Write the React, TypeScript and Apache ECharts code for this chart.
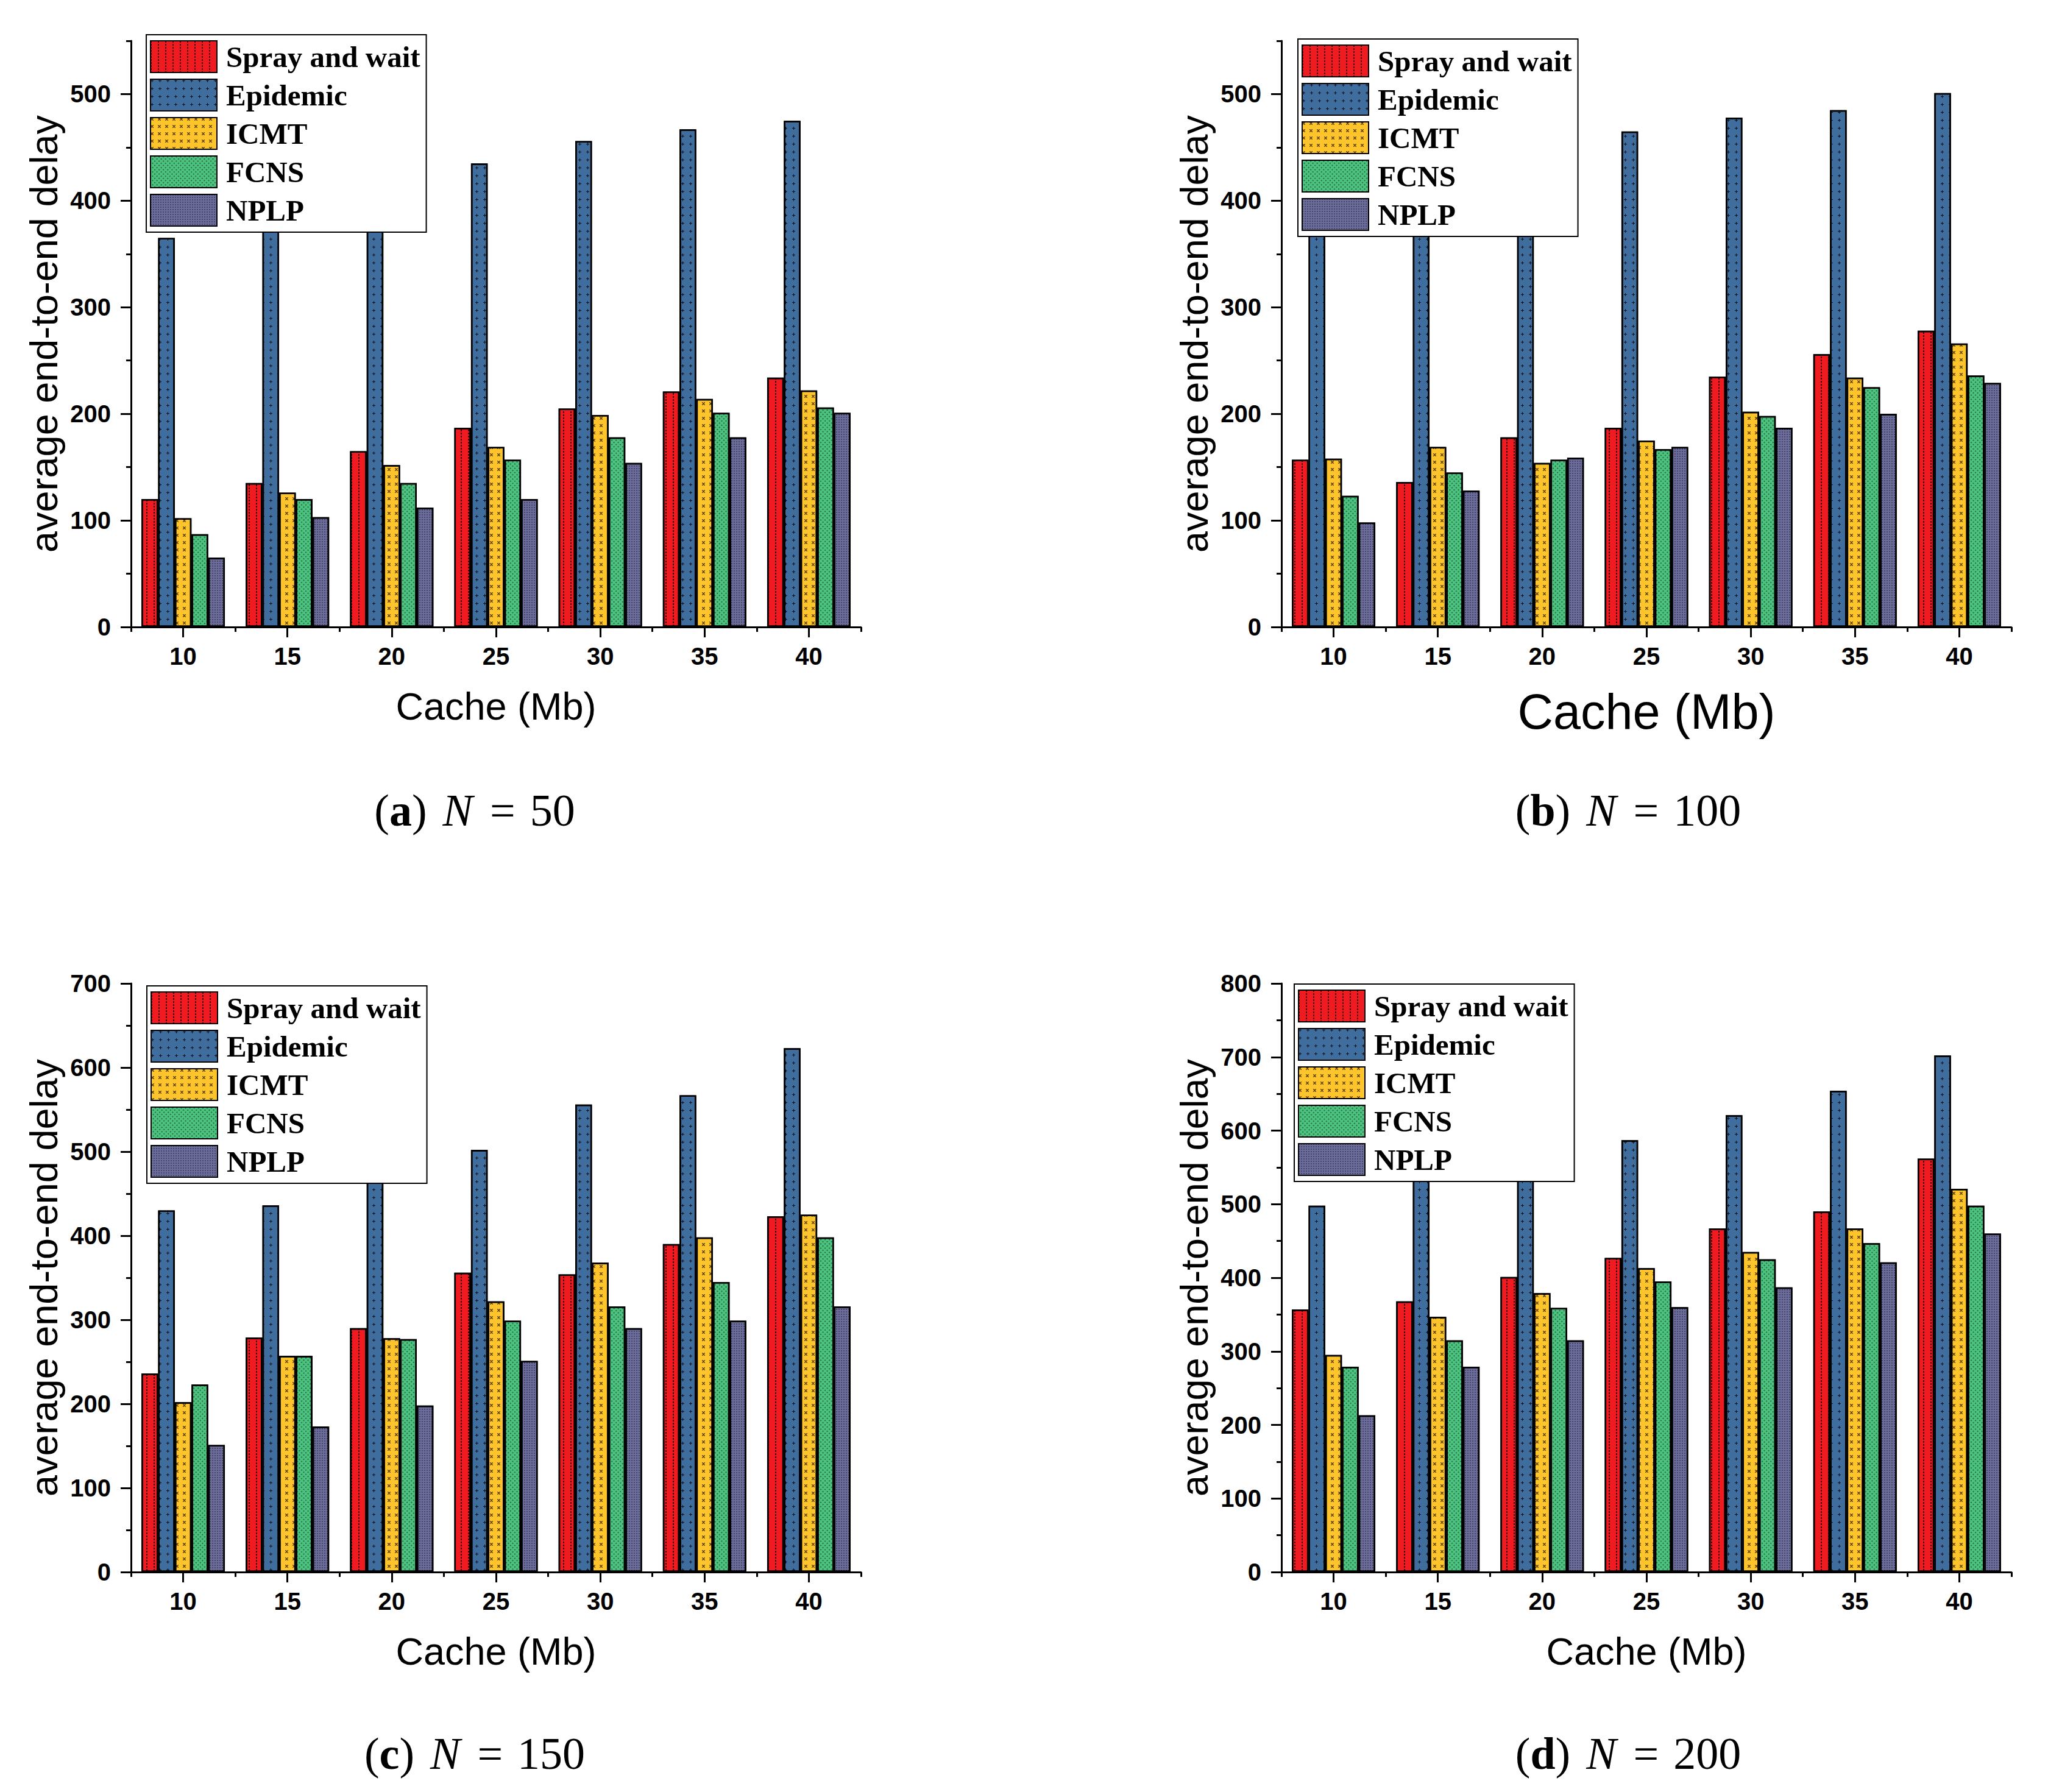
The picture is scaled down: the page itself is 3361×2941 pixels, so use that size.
import React, { useEffect, useRef } from "react";
import * as echarts from "echarts";

const cacheCategories = ["10", "15", "20", "25", "30", "35", "40"];
const seriesNames = ["Spray and wait", "Epidemic", "ICMT", "FCNS", "NPLP"];

// N = 50
const sprayN50 = [120, 135, 165, 187, 205, 221, 234];
const epidemicN50 = [365, 390, 410, 435, 456, 467, 475];
const icmtN50 = [102, 126, 152, 169, 199, 214, 222];
const fcnsN50 = [87, 120, 135, 157, 178, 201, 206];
const nplpN50 = [65, 103, 112, 120, 154, 178, 201];

// N = 100
const sprayN100 = [157, 136, 178, 187, 235, 256, 278];
const epidemicN100 = [390, 400, 420, 465, 478, 485, 501];
const icmtN100 = [158, 169, 154, 175, 202, 234, 266];
const fcnsN100 = [123, 145, 157, 167, 198, 225, 236];
const nplpN100 = [98, 128, 159, 169, 187, 200, 229];

// N = 150
const sprayN150 = [236, 279, 290, 356, 354, 390, 423];
const epidemicN150 = [430, 436, 480, 502, 556, 567, 623];
const icmtN150 = [202, 257, 278, 322, 368, 398, 425];
const fcnsN150 = [223, 257, 277, 299, 316, 345, 398];
const nplpN150 = [151, 173, 198, 251, 290, 299, 316];

// N = 200
const sprayN200 = [357, 368, 401, 427, 467, 490, 562];
const epidemicN200 = [498, 545, 560, 587, 621, 654, 702];
const icmtN200 = [295, 347, 379, 413, 435, 467, 521];
const fcnsN200 = [279, 315, 359, 395, 425, 447, 498];
const nplpN200 = [213, 279, 315, 360, 387, 421, 460];

// y tick labels
const yTicks550 = [0, 100, 200, 300, 400, 500];
const yTicks700 = [0, 100, 200, 300, 400, 500, 600, 700];
const yTicks800 = [0, 100, 200, 300, 400, 500, 600, 700, 800];

const panelLetters = ["a", "b", "c", "d"];
const panelN = ["50", "100", "150", "200"];

const SANS = "'Liberation Sans', Arial, Helvetica, sans-serif";
const SERIF = "'Liberation Serif', 'Times New Roman', serif";

const fills = ["#EF1B20", "#3F6E9E", "#FEC42B", "#4CC27F", "#6D6D9D"];

const plusPath = "path://M2,0h1v2h2v1h-2v2h-1v-2h-2v-1h2z";
const xPath = "path://M0,0h1l4,4v1h-1l-4,-4z M4,0h1v1l-4,4h-1v-1z";

const decals: any[] = [
  { symbol: "rect", symbolSize: 1, color: "rgba(0,0,0,0.7)", dashArrayX: [2, 10], dashArrayY: [3, 2] },
  { symbol: plusPath, symbolSize: 1, color: "rgba(0,0,0,0.85)", dashArrayX: [5, 8], dashArrayY: [5, 8] },
  { symbol: xPath, symbolSize: 1, color: "rgba(40,20,0,0.75)", dashArrayX: [5, 7], dashArrayY: [5, 7] },
  { symbol: "rect", symbolSize: 1, color: "rgba(0,0,0,0.45)", dashArrayX: [1.5, 2.5], dashArrayY: [1.5, 2.5], rotation: Math.PI / 4 },
  { symbol: "rect", symbolSize: 1, color: "rgba(0,0,0,0.35)", dashArrayX: [1.5, 2], dashArrayY: [1.5, 2] },
];

const panels = [
  { data: [sprayN50, epidemicN50, icmtN50, fcnsN50, nplpN50], max: 550, ticks: yTicks550, grid: { left: 215, top: 67, width: 1198, height: 962 }, legend: { left: 240, top: 57 }, caption: { x: 779, y: 1330 }, xNameSize: 63 },
  { data: [sprayN100, epidemicN100, icmtN100, fcnsN100, nplpN100], max: 550, ticks: yTicks550, grid: { left: 2103, top: 67, width: 1198, height: 962 }, legend: { left: 2130, top: 64 }, caption: { x: 2672, y: 1330 }, xNameSize: 81 },
  { data: [sprayN150, epidemicN150, icmtN150, fcnsN150, nplpN150], max: 700, ticks: yTicks700, grid: { left: 215, top: 1614, width: 1198, height: 966 }, legend: { left: 241, top: 1618 }, caption: { x: 779, y: 2878 }, xNameSize: 63 },
  { data: [sprayN200, epidemicN200, icmtN200, fcnsN200, nplpN200], max: 800, ticks: yTicks800, grid: { left: 2103, top: 1614, width: 1198, height: 966 }, legend: { left: 2124, top: 1615 }, caption: { x: 2672, y: 2878 }, xNameSize: 63 },
];

function buildOption() {
  const grid: any[] = [];
  const xAxis: any[] = [];
  const yAxis: any[] = [];
  const series: any[] = [];
  const legend: any[] = [];
  const graphic: any[] = [];
  const axisLineStyle = { color: "#000", width: 3 };
  const tickLabel = { fontSize: 40, fontWeight: "bold", fontFamily: SANS, color: "#000" };

  panels.forEach((p, i) => {
    grid.push({ ...p.grid });
    xAxis.push({
      type: "category",
      gridIndex: i,
      position: "bottom",
      data: cacheCategories,
      axisLine: { show: true, lineStyle: axisLineStyle },
      axisTick: { show: true, alignWithLabel: true, length: 17, lineStyle: axisLineStyle },
      axisLabel: { ...tickLabel, margin: 28 },
      splitLine: { show: false },
      name: "Cache (Mb)",
      nameLocation: "middle",
      nameGap: 98,
      nameTextStyle: { fontSize: p.xNameSize, fontFamily: SANS, color: "#000" },
    });
    xAxis.push({
      type: "category",
      gridIndex: i,
      position: "bottom",
      data: cacheCategories,
      axisLine: { show: false },
      axisTick: { show: true, length: 8, lineStyle: axisLineStyle },
      axisLabel: { show: false },
      splitLine: { show: false },
    });
    yAxis.push({
      type: "value",
      gridIndex: i,
      position: "left",
      min: 0,
      max: p.max,
      interval: 100,
      axisLine: { show: true, lineStyle: axisLineStyle },
      axisTick: { show: true, length: 17, lineStyle: axisLineStyle, customValues: p.ticks },
      axisLabel: { ...tickLabel, margin: 33, customValues: p.ticks },
      splitLine: { show: false },
      name: "average end-to-end delay",
      nameLocation: "middle",
      nameRotate: 90,
      nameGap: 112,
      nameTextStyle: { fontSize: 63, fontFamily: SANS, color: "#000" },
    });
    yAxis.push({
      type: "value",
      gridIndex: i,
      position: "left",
      min: 0,
      max: p.max,
      interval: 50,
      axisLine: { show: false },
      axisTick: { show: true, length: 8, lineStyle: axisLineStyle },
      axisLabel: { show: false },
      splitLine: { show: false },
    });
    p.data.forEach((vals, k) => {
      series.push({
        type: "bar",
        name: seriesNames[k],
        xAxisIndex: 2 * i,
        yAxisIndex: 2 * i,
        data: vals,
        barGap: "0%",
        barCategoryGap: "20%",
        itemStyle: { color: fills[k], borderColor: "#000", borderWidth: 2.5, decal: decals[k] },
      });
    });
    legend.push({
      orient: "vertical",
      left: p.legend.left,
      top: p.legend.top,
      data: seriesNames,
      icon: "rect",
      itemWidth: 109,
      itemHeight: 52,
      itemGap: 9,
      padding: [9, 10, 9, 6],
      borderColor: "#000",
      borderWidth: 2,
      backgroundColor: "#fff",
      selectedMode: false,
      textStyle: { fontFamily: SERIF, fontWeight: "bold", fontSize: 49, lineHeight: 52, color: "#000", padding: [0, 0, 0, 10] },
      z: 10,
    });
    graphic.push({
      type: "text",
      x: p.caption.x,
      y: p.caption.y,
      z: 10,
      style: {
        text: `{p|(}{b|${panelLetters[i]}}{p|)}{i|N}{e|=}{p|${panelN[i]}}`,
        align: "center",
        verticalAlign: "middle",
        rich: {
          p: { fontFamily: SERIF, fontSize: 74, fill: "#000" },
          b: { fontFamily: SERIF, fontSize: 74, fontWeight: "bold", fill: "#000" },
          i: { fontFamily: SERIF, fontSize: 74, fontStyle: "italic", fill: "#000", padding: [0, 28, 0, 26] },
          e: { fontFamily: SERIF, fontSize: 74, fill: "#000", padding: [0, 24, 0, 0] },
        },
      },
    });
  });

  return {
    animation: false,
    backgroundColor: "#fff",
    textStyle: { fontFamily: SANS },
    grid,
    xAxis,
    yAxis,
    series,
    legend,
    graphic,
  };
}

export default function App() {
  const ref = useRef<HTMLDivElement>(null);
  useEffect(() => {
    if (!ref.current) return;
    const chart = echarts.init(ref.current, undefined, { renderer: "svg" });
    chart.setOption(buildOption() as any);
    return () => chart.dispose();
  }, []);
  return (
    <div
      ref={ref}
      style={{ position: "fixed", left: 0, top: 0, width: 3361, height: 2941, background: "#fff" }}
    />
  );
}
